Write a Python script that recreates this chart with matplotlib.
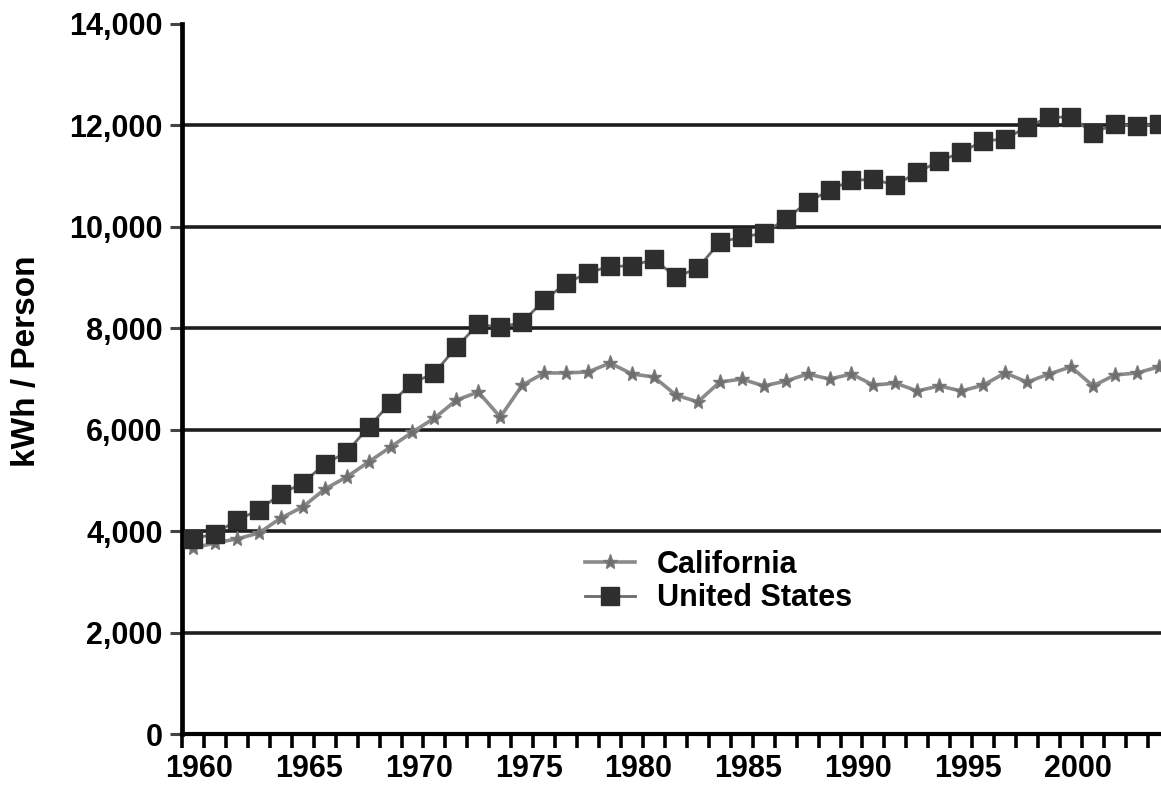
import matplotlib
matplotlib.use("Agg")
import matplotlib.pyplot as plt
from matplotlib.ticker import FuncFormatter, FixedLocator

years = list(range(1960, 2005))
us_values = [3850, 3950, 4220, 4420, 4735, 4950, 5325, 5560, 6050, 6530,
             6920, 7120, 7630, 8080, 8020, 8120, 8555, 8890, 9090, 9225,
             9225, 9365, 9010, 9185, 9700, 9795, 9875, 10150, 10485, 10720,
             10915, 10935, 10820, 11075, 11290, 11470, 11690, 11730, 11970, 12160,
             12160, 11850, 12020, 11980, 12020]
ca_values = [3670, 3770, 3850, 3965, 4260, 4480, 4830, 5070, 5365, 5660,
             5955, 6230, 6585, 6745, 6250, 6880, 7120, 7120, 7140, 7315,
             7100, 7040, 6685, 6550, 6940, 7000, 6865, 6960, 7100, 7000,
             7100, 6880, 6920, 6765, 6865, 6765, 6880, 7120, 6940, 7100,
             7240, 6865, 7080, 7120, 7240]
year_labels = [1960, 1965, 1970, 1975, 1980, 1985, 1990, 1995, 2000]
y_ticks = [0, 2000, 4000, 6000, 8000, 10000, 12000, 14000]
grid_values = [2000, 4000, 6000, 8000, 10000, 12000]
series_names = ["California", "United States"]
y_label = "kWh / Person"

plt.rcParams['font.family'] = ['Liberation Sans', 'DejaVu Sans']

W, H = 1161, 791
fig = plt.figure(figsize=(W / 100, H / 100), dpi=100)
left, right, bottom, top = 182 / W, 1.0, (H - 734.3) / H, (H - 23.8) / H
ax = fig.add_axes([left, bottom, right - left, top - bottom])

idx = [y - 1960 for y in years]

for g in grid_values:
    ax.axhline(g, color="#1e1e1e", lw=2.6, zorder=1)

ax.plot(idx, ca_values, color="#8a8a8a", lw=2.6, marker="*", markersize=11,
        markerfacecolor="#6e6e6e", markeredgecolor="#7a7a7a", label=series_names[0], zorder=3)
ax.plot(idx, us_values, color="#6a6a6a", lw=2.0, marker="s", markersize=13.5,
        markerfacecolor="#2e2e2e", markeredgecolor="#2e2e2e", label=series_names[1], zorder=4)

ax.set_xlim(-0.5, 44.1)
ax.set_ylim(0, 14000)

for s in ["top", "right"]:
    ax.spines[s].set_visible(False)
ax.spines["left"].set_linewidth(3.4)
ax.spines["bottom"].set_linewidth(3.0)
ax.spines["left"].set_color("black")
ax.spines["bottom"].set_color("black")

ax.set_yticks(y_ticks)
ax.yaxis.set_major_formatter(FuncFormatter(lambda v, p: f"{int(v):,}"))
ax.tick_params(axis="y", length=9, width=2.2, color="#444444", labelsize=22, pad=5)

# category boundaries as major ticks, labels as minor ticks
ax.xaxis.set_major_locator(FixedLocator([i - 0.5 for i in idx]))
ax.xaxis.set_major_formatter(FuncFormatter(lambda v, p: ""))
ax.xaxis.set_minor_locator(FixedLocator([y - 1960 + 0.3 for y in year_labels]))
ax.xaxis.set_minor_formatter(FuncFormatter(lambda v, p: str(int(round(v - 0.3)) + 1960)))
ax.tick_params(axis="x", which="major", length=10, width=2.6, color="black")
ax.tick_params(axis="x", which="minor", length=0, labelsize=22, pad=14)

for lab in ax.get_yticklabels() + ax.get_xticklabels(minor=True):
    lab.set_fontweight("bold")

fig.text(27 / W, 1 - 361 / H, y_label, rotation=90, ha="center", va="center",
         fontsize=24, fontweight="bold")

leg = ax.legend(loc="upper left", bbox_to_anchor=(585 / W, 1 - 550 / H),
                bbox_transform=fig.transFigure, frameon=False,
                borderpad=0, borderaxespad=0, handlelength=1.64, handletextpad=0.72,
                labelspacing=0.11, prop={"weight": "bold", "size": 22})

fig.savefig("out.png", dpi=100)
